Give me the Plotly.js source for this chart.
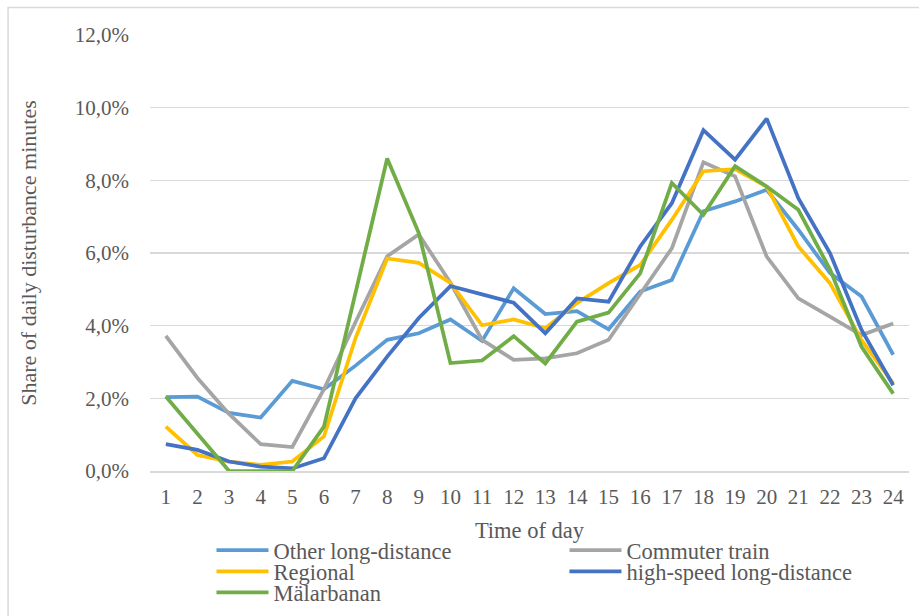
<!DOCTYPE html>
<html>
<head>
<meta charset="utf-8">
<script src="https://cdn.plot.ly/plotly-3.0.1.min.js"></script>
<style>html,body{margin:0;padding:0;background:#fff;}#chart{width:919px;height:616px;}</style>
</head>
<body>
<div id="chart"></div>
<script>
const hours = [1,2,3,4,5,6,7,8,9,10,11,12,13,14,15,16,17,18,19,20,21,22,23,24];
const otherLongDistance = [2.03,2.05,1.60,1.47,2.48,2.25,2.90,3.61,3.79,4.17,3.58,5.03,4.32,4.40,3.90,4.94,5.26,7.15,7.42,7.74,6.64,5.45,4.80,3.20];
const commuterTrain = [3.72,2.56,1.57,0.74,0.66,2.25,4.10,5.91,6.51,5.18,3.61,3.06,3.10,3.24,3.61,4.89,6.13,8.50,8.11,5.90,4.75,4.25,3.74,4.06];
const regional = [1.22,0.44,0.26,0.17,0.26,0.95,3.66,5.85,5.73,5.18,4.01,4.17,3.93,4.62,5.17,5.67,6.91,8.25,8.31,7.83,6.18,5.17,3.60,2.41];
const highSpeed = [0.74,0.58,0.26,0.12,0.07,0.35,2.00,3.15,4.21,5.09,4.86,4.63,3.79,4.75,4.66,6.18,7.37,9.38,8.57,9.70,7.51,6.00,3.88,2.36];
const malarbanan = [2.05,1.04,0.00,0.00,0.00,1.22,4.90,8.60,6.55,2.97,3.04,3.71,2.96,4.11,4.36,5.44,7.93,7.05,8.39,7.83,7.19,5.55,3.42,2.13];

const seriesNames = ["Other long-distance","Commuter train","Regional","high-speed long-distance","Mälarbanan"];
const seriesData = [otherLongDistance, commuterTrain, regional, highSpeed, malarbanan];
const seriesColors = ["#5B9BD5","#A5A5A5","#FFC000","#4472C4","#70AD47"];
const seriesLegend = ["legend","legend","legend2","legend2","legend3"];
const seriesLegendWidth = [286, 230, 286, 230, 286];

const fam = "Liberation Serif, Times New Roman, serif";
const tickFont = {family: fam, size: 21, color: "#595959"};
const textFont = {family: fam, size: 22.5, color: "#595959"};
const yTitleFont = {family: fam, size: 22, color: "#595959"};

const traces = seriesNames.map((n, i) => ({
  type: "scatter", mode: "lines", name: n,
  x: hours, y: seriesData[i],
  line: {color: seriesColors[i], width: 3.75, shape: "linear"},
  legend: seriesLegend[i], legendwidth: seriesLegendWidth[i], hoverinfo: "skip"
}));

const legendBase = {
  orientation: "h", xanchor: "left", yanchor: "top",
  font: textFont, bgcolor: "rgba(0,0,0,0)", itemwidth: 52,
  entrywidthmode: "pixels", entrywidth: 286, traceorder: "normal", itemclick: false
};

const layout = {
  width: 919, height: 616,
  margin: {l: 150, r: 10, t: 35, b: 145, autoexpand: false},
  paper_bgcolor: "#fff", plot_bgcolor: "#fff",
  font: textFont,
  separators: ", ",
  showlegend: true,
  xaxis: {
    type: "linear", range: [0.5, 24.5], tickmode: "array", tickvals: hours, ticktext: hours.map(String),
    showgrid: false, zeroline: false, showline: true, linecolor: "#D9D9D9", linewidth: 1.5,
    ticks: "", ticklabelstandoff: 6, tickfont: tickFont,
    title: {text: "Time of day", font: textFont, standoff: 14}
  },
  yaxis: {
    range: [0, 12], dtick: 2, tick0: 0, tickformat: ".1f", ticksuffix: "%",
    showgrid: true, gridcolor: "#D9D9D9", gridwidth: 1.5, zeroline: false, showline: false,
    ticks: "", ticklabelstandoff: 20, tickfont: tickFont,
    title: {text: "Share of daily disturbance minutes", font: yTitleFont, standoff: 32}
  },
  legend: Object.assign({}, legendBase, {x: 0.081, y: -0.133}),
  legend2: Object.assign({}, legendBase, {x: 0.081, y: -0.182}),
  legend3: Object.assign({}, legendBase, {x: 0.081, y: -0.230}),
  shapes: [{
    type: "rect", xref: "paper", yref: "paper",
    x0: -0.187, x1: 1.05, y0: 1.063, y1: -0.35,
    line: {color: "#D9D9D9", width: 1.5}, fillcolor: "rgba(0,0,0,0)", layer: "below"
  }]
};

Plotly.newPlot("chart", traces, layout, {displayModeBar: false, staticPlot: true});
</script>
</body>
</html>
